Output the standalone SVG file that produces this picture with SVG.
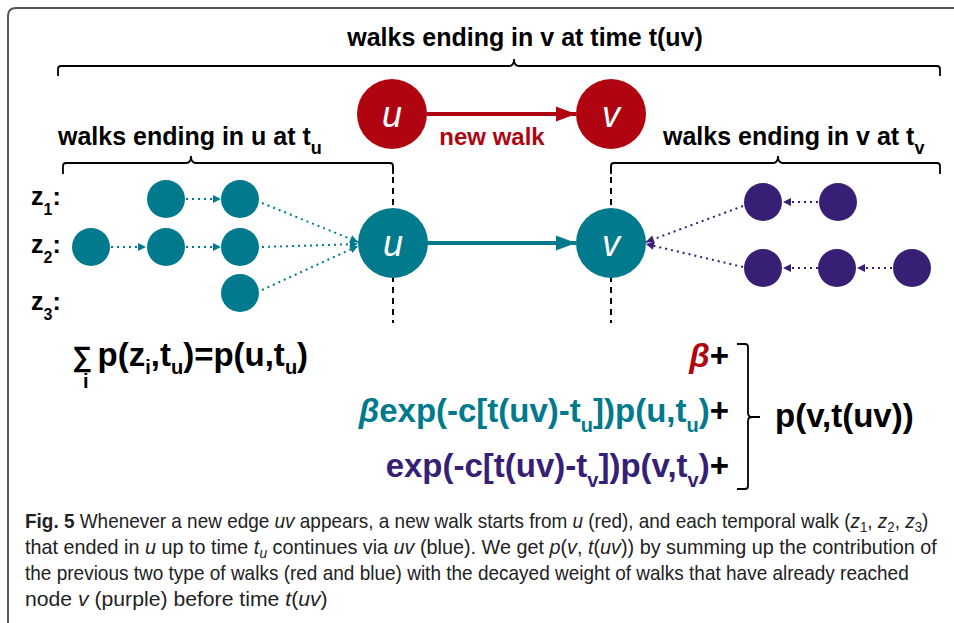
<svg xmlns="http://www.w3.org/2000/svg" width="954" height="623" viewBox="0 0 954 623">
<style>
text{font-family:"Liberation Sans",Arial,sans-serif;}
.b{font-weight:bold;}
.lbl{font-size:25px;font-weight:bold;fill:#000;}
.node-t{fill:#007A8C;}
.node-p{fill:#361F74;}
.node-r{fill:#B00510;}
.nl{font-size:36px;font-style:italic;fill:#fff;text-anchor:middle;}
.brace{fill:none;stroke:#000;stroke-width:1.8;}
.dash{fill:none;stroke:#000;stroke-width:2;stroke-dasharray:6 5;}
.dt{fill:none;stroke:#007A8C;stroke-width:2;stroke-dasharray:2 4;}
.dp{fill:none;stroke:#361F74;stroke-width:2;stroke-dasharray:2 4;}
.f{font-size:33px;font-weight:bold;}
.cap{font-size:20px;fill:#222;}
</style>
<defs>
<marker id="mt" markerUnits="userSpaceOnUse" markerWidth="10" markerHeight="10" refX="9" refY="5" orient="auto"><path d="M1,1 L9,5 L1,9 Z" fill="#007A8C"/></marker>
<marker id="mp" markerUnits="userSpaceOnUse" markerWidth="10" markerHeight="10" refX="9" refY="5" orient="auto"><path d="M1,1 L9,5 L1,9 Z" fill="#361F74"/></marker>
<marker id="mT" markerUnits="userSpaceOnUse" markerWidth="22" markerHeight="16" refX="20" refY="8" orient="auto"><path d="M0,0.5 L20,8 L0,15.5 Z" fill="#007A8C"/></marker>
<marker id="mR" markerUnits="userSpaceOnUse" markerWidth="22" markerHeight="16" refX="20" refY="8" orient="auto"><path d="M0,0.5 L20,8 L0,15.5 Z" fill="#B00510"/></marker>
</defs>

<!-- frame -->
<path d="M8,623 V16 Q8,8 16,8 H954" fill="none" stroke="#555" stroke-width="2"/>

<!-- braces and dashed guides -->
<g id="braces">
<path class="brace" d="M58,76 V69 Q58,66 61,66 H509 Q514,66 514,59 Q514,66 519,66 H937 Q940,66 940,69 V76"/>
<path class="brace" d="M63,174 V166 Q63,163 66,163 H186 Q191,163 191,156 Q191,163 196,163 H390 Q393,163 393,166 V174"/>
<path class="brace" d="M611,174 V166 Q611,163 614,163 H773 Q778,163 778,156 Q778,163 783,163 H937 Q940,163 940,166 V174"/>
<path class="brace" stroke-width="2" d="M737,344 H745 Q748,344 748,347 V413 Q748,417 752,417 H760 M752,417 Q748,417 748,421 V486 Q748,489 745,489 H737"/>
</g>
<g id="guides">
<line class="dash" x1="393" y1="166" x2="393" y2="323"/>
<line class="dash" x1="611" y1="166" x2="611" y2="323"/>
</g>

<!-- labels -->
<text class="lbl" x="525" y="46" text-anchor="middle">walks ending in v at time t(uv)</text>
<text class="lbl" x="58" y="145">walks ending in u at t<tspan font-size="18" dy="9">u</tspan></text>
<text class="lbl" x="663" y="145">walks ending in v at t<tspan font-size="18" dy="9">v</tspan></text>
<text x="492" y="145" text-anchor="middle" font-size="24" font-weight="bold" fill="#B00510">new walk</text>

<text class="lbl" x="31" y="205" font-size="24">z<tspan font-size="16" dy="10">1</tspan><tspan dy="-10">:</tspan></text>
<text class="lbl" x="31" y="253" font-size="24">z<tspan font-size="16" dy="10">2</tspan><tspan dy="-10">:</tspan></text>
<text class="lbl" x="31" y="310" font-size="24">z<tspan font-size="16" dy="10">3</tspan><tspan dy="-10">:</tspan></text>

<!-- connectors -->
<g id="connectors">
<line x1="427" y1="114" x2="576" y2="114" stroke="#B00510" stroke-width="4" marker-end="url(#mR)"/>
<line x1="427" y1="243" x2="576" y2="243" stroke="#007A8C" stroke-width="4" marker-end="url(#mT)"/>
<line class="dt" x1="186" y1="199" x2="221" y2="199" marker-end="url(#mt)"/>
<line class="dt" x1="111" y1="247" x2="146" y2="247" marker-end="url(#mt)"/>
<line class="dt" x1="186" y1="247" x2="221" y2="247" marker-end="url(#mt)"/>
<line class="dt" x1="262" y1="203" x2="358" y2="242" marker-end="url(#mt)"/>
<line class="dt" x1="262" y1="247" x2="358" y2="244" marker-end="url(#mt)"/>
<line class="dt" x1="262" y1="290" x2="358" y2="246" marker-end="url(#mt)"/>
<line class="dp" x1="818" y1="202" x2="783" y2="202" marker-end="url(#mp)"/>
<line class="dp" x1="892" y1="268" x2="857" y2="268" marker-end="url(#mp)"/>
<line class="dp" x1="818" y1="268" x2="783" y2="268" marker-end="url(#mp)"/>
<line class="dp" x1="743" y1="206" x2="646" y2="242" marker-end="url(#mp)"/>
<line class="dp" x1="743" y1="267" x2="646" y2="244" marker-end="url(#mp)"/>
</g>

<!-- nodes -->
<g id="u-red"><circle class="node-r" cx="392" cy="114" r="35"/><text class="nl" x="392" y="127">u</text></g>
<g id="v-red"><circle class="node-r" cx="611" cy="114" r="35"/><text class="nl" x="611" y="127">v</text></g>
<g id="u-teal"><circle class="node-t" cx="393" cy="243" r="35"/><text class="nl" x="393" y="256">u</text></g>
<g id="v-teal"><circle class="node-t" cx="611" cy="243" r="35"/><text class="nl" x="611" y="256">v</text></g>
<g id="z1a"><circle class="node-t" cx="166" cy="199" r="19"/></g>
<g id="z1b"><circle class="node-t" cx="240" cy="199" r="19"/></g>
<g id="z2a"><circle class="node-t" cx="91" cy="247" r="19"/></g>
<g id="z2b"><circle class="node-t" cx="166" cy="247" r="19"/></g>
<g id="z2c"><circle class="node-t" cx="240" cy="247" r="19"/></g>
<g id="z3a"><circle class="node-t" cx="240" cy="293" r="19"/></g>
<g id="p1a"><circle class="node-p" cx="763" cy="202" r="19"/></g>
<g id="p1b"><circle class="node-p" cx="838" cy="202" r="19"/></g>
<g id="p2a"><circle class="node-p" cx="763" cy="268" r="19"/></g>
<g id="p2b"><circle class="node-p" cx="837" cy="268" r="19"/></g>
<g id="p2c"><circle class="node-p" cx="912" cy="268" r="19"/></g>

<!-- formulas -->
<text class="f" x="72" y="366"><tspan font-size="28">∑</tspan><tspan font-size="20" dx="-9" dy="22">i</tspan><tspan dx="9" dy="-22">p(z</tspan><tspan font-size="20" dy="8">i</tspan><tspan dy="-8">,t</tspan><tspan font-size="20" dy="8">u</tspan><tspan dy="-8">)=p(u,t</tspan><tspan font-size="20" dy="8">u</tspan><tspan dy="-8">)</tspan></text>

<text class="f" x="729" y="367" text-anchor="end"><tspan fill="#B00510" font-style="italic">β</tspan>+</text>
<text class="f" x="729" y="422" text-anchor="end"><tspan fill="#007A8C"><tspan font-style="italic">β</tspan>exp(-c[t(uv)-t<tspan font-size="20" dy="10">u</tspan><tspan dy="-10">])p(u,t</tspan><tspan font-size="20" dy="10">u</tspan><tspan dy="-10">)</tspan></tspan>+</text>
<text class="f" x="729" y="477" text-anchor="end"><tspan fill="#361F74">exp(-c[t(uv)-t<tspan font-size="20" dy="10">v</tspan><tspan dy="-10">])p(v,t</tspan><tspan font-size="20" dy="10">v</tspan><tspan dy="-10">)</tspan></tspan>+</text>
<text class="f" x="775" y="427">p(v,t(uv))</text>

<!-- caption -->
<text class="cap" transform="translate(25,528) scale(0.948,1)"><tspan font-weight="bold">Fig. 5</tspan> Whenever a new edge <tspan font-style="italic">uv</tspan> appears, a new walk starts from <tspan font-style="italic">u</tspan> (red), and each temporal walk (<tspan font-style="italic">z</tspan><tspan font-size="14" dy="4">1</tspan><tspan dy="-4">, </tspan><tspan font-style="italic">z</tspan><tspan font-size="14" dy="4">2</tspan><tspan dy="-4">, </tspan><tspan font-style="italic">z</tspan><tspan font-size="14" dy="4">3</tspan><tspan dy="-4">)</tspan></text>
<text class="cap" transform="translate(25,554) scale(0.99,1)">that ended in <tspan font-style="italic">u</tspan> up to time <tspan font-style="italic">t</tspan><tspan font-size="14" font-style="italic" dy="4">u</tspan><tspan dy="-4"> continues via </tspan><tspan font-style="italic">uv</tspan> (blue). We get <tspan font-style="italic">p</tspan>(<tspan font-style="italic">v</tspan>, <tspan font-style="italic">t</tspan>(<tspan font-style="italic">uv</tspan>)) by summing up the contribution of</text>
<text class="cap" transform="translate(25,580) scale(0.95,1)">the previous two type of walks (red and blue) with the decayed weight of walks that have already reached</text>
<text class="cap" transform="translate(25,606) scale(1.06,1)">node <tspan font-style="italic">v</tspan> (purple) before time <tspan font-style="italic">t</tspan>(<tspan font-style="italic">uv</tspan>)</text>
</svg>
